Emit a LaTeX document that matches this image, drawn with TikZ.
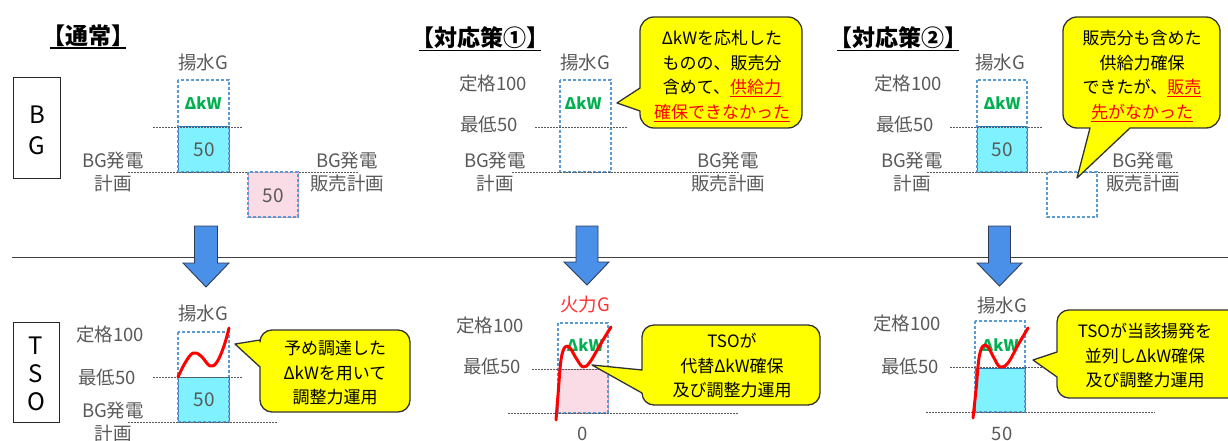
\documentclass[tikz,border=0pt]{standalone}
\usepackage{fontspec}
\setmainfont{Noto Sans CJK JP}
\definecolor{lblgray}{HTML}{595959}
\definecolor{dblue}{HTML}{5B9BD5}
\definecolor{cyanf}{HTML}{80F2FF}
\definecolor{cyanb}{HTML}{2E75B6}
\definecolor{pinkf}{HTML}{FADCE6}
\definecolor{pinkb}{HTML}{E89AB5}
\definecolor{kwgreen}{HTML}{00B050}
\definecolor{arrowblue}{HTML}{4A8FE8}
\definecolor{arrowedge}{HTML}{2F3B55}
\definecolor{callyellow}{HTML}{FFFF00}
\definecolor{firered}{HTML}{FF3030}
\newcommand\redu[1]{\textcolor{red}{\underline{#1}}}
\tikzset{
  lbl/.style={font=\fontsize{18.5}{23}\selectfont, text=lblgray, inner sep=0pt, align=center},
  ttl/.style={font=\fontsize{23}{26}\selectfont\bfseries, inner sep=0pt},
  kw/.style={font=\fontsize{16}{18}\selectfont\bfseries, text=kwgreen, inner sep=0pt},
  num/.style={font=\fontsize{19}{20}\selectfont, text=lblgray, inner sep=0pt},
  dbox/.style={draw=dblue, dash pattern=on 3pt off 2pt, line width=1.1pt},
  cbox/.style={fill=cyanf, draw=cyanb, line width=1pt},
  pbox/.style={fill=pinkf, draw=pinkb, line width=1pt},
  dotl/.style={draw=black!65, dash pattern=on 1.5pt off 1.5pt, line width=0.8pt},
  sidebox/.style={draw=black!85, line width=1pt},
  sidel/.style={font=\fontsize{24}{26}\selectfont, inner sep=0pt},
  call/.style={fill=callyellow, draw=black!80, line width=1.3pt, line join=round},
  calltext/.style={font=\fontsize{17}{24.5}\selectfont, align=center, inner sep=0pt},
  curve/.style={draw=red, line width=3pt, line cap=round, line join=round},
  bigarrow/.style={fill=arrowblue, draw=arrowedge, line width=0.9pt, line join=miter},
  sep/.style={draw=black!75, line width=1pt}
}
\begin{document}
\begin{tikzpicture}[x=1pt,y=-1pt]
\useasboundingbox (0,0) rectangle (1228,441);
\clip (0,0) rectangle (1228,441);

% separator
\coordinate (sepL) at (12,257);
\coordinate (sepR) at (1228,257);
\draw[sep] (sepL) -- (sepR);

% side boxes
\draw[sidebox] (13,78) rectangle (60,178);
\node[sidel] (sB) at (37,115) {B};
\node[sidel] (sG) at (37,146) {G};
\draw[sidebox] (13,322) rectangle (59,422);
\node[sidel] (sT) at (36,346) {T};
\node[sidel] (sS) at (36,374) {S};
\node[sidel] (sO) at (36,402) {O};

% titles
\node[ttl] (t1) at (88,36) {【通常】};
\node[ttl] (t2) at (480,38) {【対応策①】};
\node[ttl] (t3) at (898,38) {【対応策②】};
\draw[line width=1.3pt] ([xshift=8pt,yshift=-1pt]t1.south west) -- ([xshift=-8pt,yshift=-1pt]t1.south east);
\draw[line width=1.3pt] ([xshift=8pt,yshift=-1pt]t2.south west) -- ([xshift=-8pt,yshift=-1pt]t2.south east);
\draw[line width=1.3pt] ([xshift=8pt,yshift=-1pt]t3.south west) -- ([xshift=-8pt,yshift=-1pt]t3.south east);

% ===== Panel 1 BG =====
\node[lbl] (p1g) at (203,62) {揚水G};
\draw[cbox] (178,127) rectangle (229,172);
\draw[dbox] (178,80) rectangle (229,172);
\node[kw] (p1kw) at (203,103) {ΔkW};
\node[num] (p1n) at (204,150) {50};
\draw[dotl] (153,127) -- (243,127);
\draw[dotl] (128,172) -- (358,172);
\node[lbl] (p1plan) at (113,172) {BG発電\\計画};
\draw[pbox] (248,172) rectangle (298,217);
\draw[dbox] (248,172) rectangle (298,217);
\node[num] (p1s) at (273,196) {50};
\node[lbl] (p1sale) at (347,172) {BG発電\\販売計画};

% ===== Panel 2 BG =====
\node[lbl] (p2g) at (585,62) {揚水G};
\node[lbl] (p2r) at (493,84) {定格100};
\node[lbl] (p2m) at (489,125) {最低50};
\node[lbl] (p2plan) at (495,172) {BG発電\\計画};
\draw[dbox] (560,80) rectangle (611,172);
\node[kw] (p2kw) at (583,103) {ΔkW};
\draw[dotl] (535,127) -- (627,127);
\draw[dotl] (512,172) -- (740,172);
\node[lbl] (p2sale) at (728,172) {BG発電\\販売計画};

% ===== Panel 3 BG =====
\node[lbl] (p3g) at (1000,62) {揚水G};
\node[lbl] (p3r) at (908,84) {定格100};
\node[lbl] (p3m) at (905,125) {最低50};
\node[lbl] (p3plan) at (912,172) {BG発電\\計画};
\draw[cbox] (977,127) rectangle (1027,172);
\draw[dbox] (977,80) rectangle (1027,172);
\node[kw] (p3kw) at (1002,103) {ΔkW};
\node[num] (p3n) at (1002,150) {50};
\draw[dotl] (950,127) -- (1042,127);
\draw[dotl] (927,172) -- (1178,172);
\draw[dbox] (1047,172) rectangle (1097,217);
\node[lbl] (p3sale) at (1143,172) {BG発電\\販売計画};

% ===== big arrows =====
\draw[bigarrow] (194.5,226) -- (217.5,226) -- (217.5,263) -- (229,263) -- (206,287) -- (183,263) -- (194.5,263) -- cycle;
\draw[bigarrow] (576,226) -- (598,226) -- (598,262) -- (609,262) -- (587,285) -- (564,262) -- (576,262) -- cycle;
\draw[bigarrow] (988.5,226) -- (1010.5,226) -- (1010.5,263) -- (1022,263) -- (999.5,286) -- (977,263) -- (988.5,263) -- cycle;

% ===== TSO panel 1 =====
\node[lbl] (q1g) at (203,313) {揚水G};
\node[lbl] (q1r) at (110,335) {定格100};
\node[lbl] (q1m) at (107,378) {最低50};
\node[lbl] (q1plan) at (113,422) {BG発電\\計画};
\draw[cbox] (178,377) rectangle (229,422);
\draw[dbox] (178,332) rectangle (229,422);
\node[num] (q1n) at (204,400) {50};
\draw[dotl] (153,377) -- (243,377);
\draw[dotl] (128,422) -- (277,422);
\draw[curve] plot[smooth, tension=0.6] coordinates {(178,377) (185,363) (193,353) (201,356) (210,366) (217,362) (224,346) (229,328)};

% ===== TSO panel 2 =====
\node[lbl, text=firered] (q2g) at (585,305) {火力G};
\node[lbl] (q2r) at (490,326) {定格100};
\node[lbl] (q2m) at (492,367) {最低50};
\draw[pbox] (558,369) rectangle (608,413);
\draw[dbox] (558,323) rectangle (608,413);
\node[kw] (q2kw) at (585,345) {ΔkW};
\draw[dotl] (532,369) -- (600,369);
\draw[dotl] (508,413) -- (738,413);
\node[lbl] (q2z) at (583,434) {0};
\draw[curve] plot[smooth, tension=0.6] coordinates {(556,420) (558,395) (561,360) (565,347) (570,348) (576,358) (583,367) (590,362) (600,345) (611,327)};

% ===== TSO panel 3 =====
\node[lbl] (q3g) at (1002,305) {揚水G};
\node[lbl] (q3r) at (907,324) {定格100};
\node[lbl] (q3m) at (910,367) {最低50};
\draw[cbox] (975,368) rectangle (1025,412);
\draw[dbox] (975,321) rectangle (1025,412);
\node[kw] (q3kw) at (1000,345) {ΔkW};
\draw[dotl] (950,367) -- (1042,367);
\draw[dotl] (926,412) -- (1155,412);
\node[lbl] (q3n) at (1002,434) {50};
\draw[curve] plot[smooth, tension=0.6] coordinates {(973,418) (976,390) (979,358) (983,346) (988,347) (994,358) (1000,367) (1008,363) (1018,345) (1028,328)};

% ===== callouts =====
% BG panel 2
\path[call] (617,103) -- (640,88) [rounded corners=14pt] -- (640,17) -- (802,17) -- (802,128) -- (640,128) [sharp corners] -- (640,111) -- cycle;
\node[calltext] (c1) at (722,76) {ΔkWを応札した\\ものの、販売分\\含めて、\redu{供給力}\\\redu{確保できなかった}};
% BG panel 3
\path[call] (1077,178) -- (1090,128) [rounded corners=14pt] -- (1063,128) -- (1063,17) -- (1220,17) -- (1220,128) [sharp corners] -- (1130,128) -- cycle;
\node[calltext] (c2) at (1142,76) {販売分も含めた\\供給力確保\\できたが、\redu{販売}\\\redu{先がなかった}};
% TSO panel 1
\path[call] (235,344) -- (260,340) [rounded corners=12pt] -- (260,330) -- (410,330) -- (410,412) -- (260,412) [sharp corners] -- (260,367) -- cycle;
\node[calltext] (c3) at (335,373) {予め調達した\\ΔkWを用いて\\調整力運用};
% TSO panel 2
\path[call] (592,365) -- (642,370) [rounded corners=12pt] -- (642,325) -- (820,325) -- (820,405) -- (642,405) [sharp corners] -- (642,393) -- cycle;
\node[calltext] (c4) at (732,366) {TSOが\\代替ΔkW確保\\及び調整力運用};
% TSO panel 3
\path[call] (1033,360) -- (1057,352) [rounded corners=12pt] -- (1057,310) -- (1245,310) -- (1245,398) -- (1057,398) [sharp corners] -- (1057,377) -- cycle;
\node[calltext] (c5) at (1145,356) {TSOが当該揚発を\\並列しΔkW確保\\及び調整力運用};
\end{tikzpicture}
\end{document}
